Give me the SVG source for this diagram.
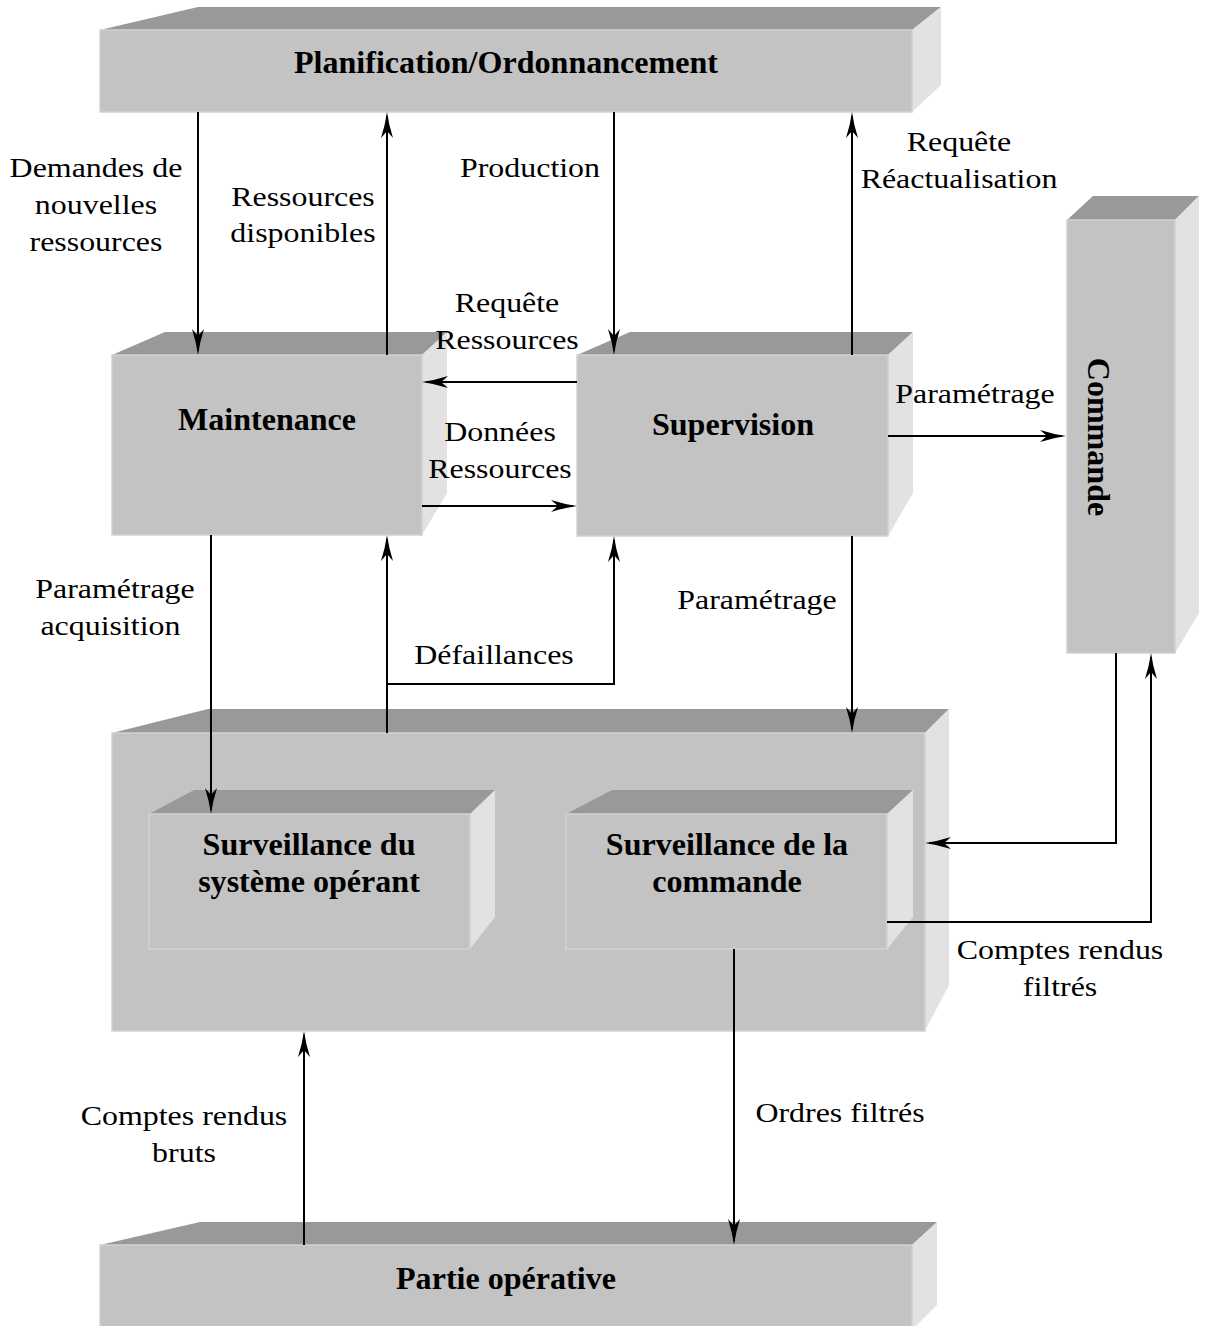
<svg xmlns="http://www.w3.org/2000/svg" width="1205" height="1326" viewBox="0 0 1205 1326">
<style>
.front{fill:#c3c3c3;stroke:#d2d2d2;stroke-width:1.5}
.top{fill:#999999}
.side{fill:#e2e2e2}
.t{font-family:"Liberation Serif","Times New Roman",serif;fill:#000;text-anchor:middle}
.b{font-size:31px;font-weight:bold}
.r{font-size:28px}
.c{fill:none;stroke:#000;stroke-width:2}
</style>
<defs>
<marker id="arr" viewBox="-27 -8 29 16" markerWidth="29" markerHeight="16" refX="-4" refY="0" orient="auto" markerUnits="userSpaceOnUse" overflow="visible">
<path d="M0,0 Q-13,-1.8 -26,-6 L-19,0 L-26,6 Q-13,1.8 0,0 Z" fill="#000"/>
</marker>
</defs>
<rect width="1205" height="1326" fill="#fff"/>

<g id="planification">
<polygon class="top" points="100,30 198,7 941,7 912,30"/>
<polygon class="side" points="912,30 941,7 941,85 912,112"/>
<rect class="front" x="100" y="30" width="812" height="82"/>
<text class="t b" transform="translate(506,73) scale(1.035,1)">Planification/Ordonnancement</text>
</g>

<g id="maintenance">
<polygon class="top" points="112,355 165,332 447,332 422,355"/>
<polygon class="side" points="422,355 447,332 447,493 422,535"/>
<rect class="front" x="112" y="355" width="310" height="180"/>
<text class="t b" transform="translate(267,430) scale(1.035,1)">Maintenance</text>
</g>

<g id="supervision">
<polygon class="top" points="577,355 630,332 913,332 888,355"/>
<polygon class="side" points="888,355 913,332 913,493 888,536"/>
<rect class="front" x="577" y="355" width="311" height="181"/>
<text class="t b" transform="translate(733,435) scale(1.035,1)">Supervision</text>
</g>

<g id="commande">
<polygon class="top" points="1067,220 1093,196 1199,196 1175,220"/>
<polygon class="side" points="1175,220 1199,196 1199,613 1175,653"/>
<rect class="front" x="1067" y="220" width="108" height="433"/>
<text class="t b" transform="translate(1088,437) rotate(90) scale(1.035,1)">Commande</text>
</g>

<g id="surveillance">
<polygon class="top" points="112,733 208,709 949,709 925,733"/>
<polygon class="side" points="925,733 949,709 949,985 925,1031"/>
<rect class="front" x="112" y="733" width="813" height="298"/>
</g>

<g id="surv-systeme">
<polygon class="top" points="149,814 194,790 495,790 470,814"/>
<polygon class="side" points="470,814 495,790 495,917 470,949"/>
<rect class="front" x="149" y="814" width="321" height="135"/>
<text class="t b" transform="translate(309,855) scale(1.035,1)"><tspan x="0" y="0">Surveillance du</tspan><tspan x="0" y="37">système opérant</tspan></text>
</g>

<g id="surv-commande">
<polygon class="top" points="566,814 612,790 913,790 887,814"/>
<polygon class="side" points="887,814 913,790 913,917 887,949"/>
<rect class="front" x="566" y="814" width="321" height="135"/>
<text class="t b" transform="translate(727,855) scale(1.035,1)"><tspan x="0" y="0">Surveillance de la</tspan><tspan x="0" y="37">commande</tspan></text>
</g>

<g id="partie-operative">
<polygon class="top" points="100,1245 200,1222 937,1222 912,1245"/>
<polygon class="side" points="912,1245 937,1222 937,1305 912,1330"/>
<rect class="front" x="100" y="1245" width="812" height="90"/>
<text class="t b" transform="translate(506,1289) scale(1.035,1)">Partie opérative</text>
</g>

<g id="connectors">
<path class="c" d="M198,112 V351" marker-end="url(#arr)"/>
<path class="c" d="M387,355 V116" marker-end="url(#arr)"/>
<path class="c" d="M614,112 V351" marker-end="url(#arr)"/>
<path class="c" d="M852,355 V116" marker-end="url(#arr)"/>
<path class="c" d="M577,382 H426" marker-end="url(#arr)"/>
<path class="c" d="M422,506 H573" marker-end="url(#arr)"/>
<path class="c" d="M888,436 H1062" marker-end="url(#arr)"/>
<path class="c" d="M211,535 V810" marker-end="url(#arr)"/>
<path class="c" d="M387,733 V539" marker-end="url(#arr)"/>
<path class="c" d="M387,684 H614 V540" marker-end="url(#arr)"/>
<path class="c" d="M852,536 V729" marker-end="url(#arr)"/>
<path class="c" d="M1116,653 V843 H929" marker-end="url(#arr)"/>
<path class="c" d="M887,922 H1151 V657" marker-end="url(#arr)"/>
<path class="c" d="M304,1245 V1035" marker-end="url(#arr)"/>
<path class="c" d="M734,949 V1241" marker-end="url(#arr)"/>
</g>

<g id="labels">
<text class="t r" transform="translate(96,177) scale(1.14,1)"><tspan x="0" y="0">Demandes de</tspan><tspan x="0" y="37">nouvelles</tspan><tspan x="0" y="74">ressources</tspan></text>
<text class="t r" transform="translate(303,206) scale(1.14,1)"><tspan x="0" y="0">Ressources</tspan><tspan x="0" y="36">disponibles</tspan></text>
<text class="t r" transform="translate(530,177) scale(1.14,1)">Production</text>
<text class="t r" transform="translate(959,151) scale(1.14,1)"><tspan x="0" y="0">Requête</tspan><tspan x="0" y="37">Réactualisation</tspan></text>
<text class="t r" transform="translate(507,312) scale(1.14,1)"><tspan x="0" y="0">Requête</tspan><tspan x="0" y="37">Ressources</tspan></text>
<text class="t r" transform="translate(500,441) scale(1.14,1)"><tspan x="0" y="0">Données</tspan><tspan x="0" y="37">Ressources</tspan></text>
<text class="t r" transform="translate(975,403) scale(1.14,1)">Paramétrage</text>
<text class="t r" transform="translate(115,598) scale(1.14,1)"><tspan x="0" y="0">Paramétrage</tspan><tspan x="-4" y="37">acquisition</tspan></text>
<text class="t r" transform="translate(494,664) scale(1.14,1)">Défaillances</text>
<text class="t r" transform="translate(757,609) scale(1.14,1)">Paramétrage</text>
<text class="t r" transform="translate(1060,959) scale(1.14,1)"><tspan x="0" y="0">Comptes rendus</tspan><tspan x="0" y="37">filtrés</tspan></text>
<text class="t r" transform="translate(184,1125) scale(1.14,1)"><tspan x="0" y="0">Comptes rendus</tspan><tspan x="0" y="37">bruts</tspan></text>
<text class="t r" transform="translate(840,1122) scale(1.14,1)">Ordres filtrés</text>
</g>
</svg>
